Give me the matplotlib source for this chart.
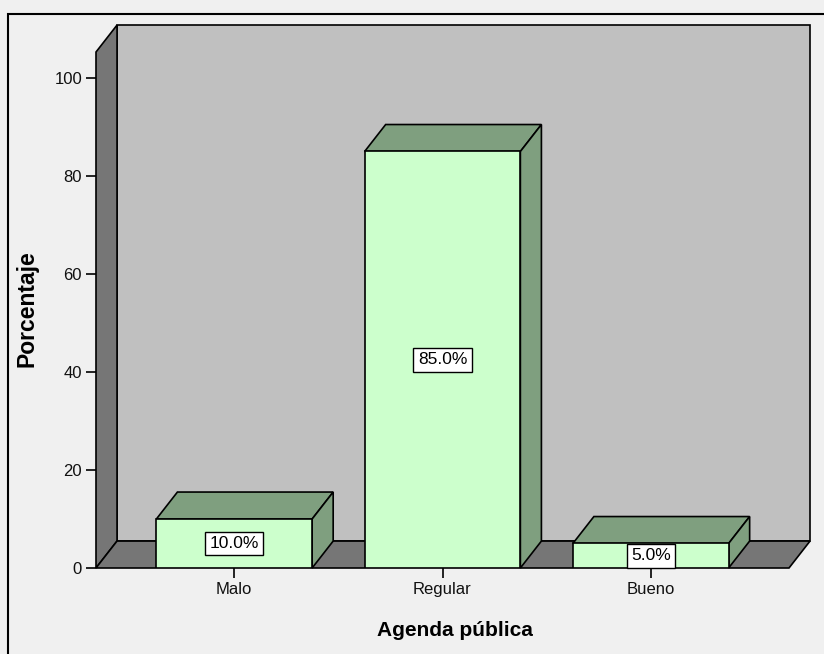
"""SPSS-style 3D bar chart: Agenda pública (percentages)."""

import matplotlib
matplotlib.use("Agg")
import matplotlib.pyplot as plt
from matplotlib.patches import Polygon, Rectangle

categories = ["Malo", "Regular", "Bueno"]
percent = [10.0, 85.0, 5.0]
yticks = [0, 20, 40, 60, 80, 100]

W, H = 824, 654
BG = "#f0f0f0"
WALL = "#c0c0c0"
SIDE = "#767676"
FRONT = "#ccffcc"
TOP = "#7f9f7f"
FONT = "Liberation Sans"

BAR_W = 0.748
XMIN, XMAX = -0.664, 2.664
YTOP = 105.3
DX, DY = 0.101, 5.5  # depth offset, data units


def poly(ax, pts, color, z):
    ax.add_patch(Polygon(pts, closed=True, facecolor=color, edgecolor="black",
                         linewidth=1.2, clip_on=False, zorder=z))


fig = plt.figure(figsize=(W / 100, H / 100), dpi=100, facecolor=BG)
fig.patches.append(Rectangle((8 / W, -0.05), 1.0, 1 - 14 / H + 0.05,
                             transform=fig.transFigure, fill=False,
                             edgecolor="black", linewidth=1.5))

ax = fig.add_axes([96 / W, (H - 568) / H, 693 / W, 516 / H])
ax.set_xlim(XMIN, XMAX)
ax.set_ylim(0, YTOP)
ax.patch.set_visible(False)
for s in ax.spines.values():
    s.set_visible(False)

# back wall, left wall, floor
poly(ax, [(XMIN + DX, DY), (XMAX + DX, DY), (XMAX + DX, YTOP + DY), (XMIN + DX, YTOP + DY)], WALL, 1)
poly(ax, [(XMIN, 0), (XMIN + DX, DY), (XMIN + DX, YTOP + DY), (XMIN, YTOP)], SIDE, 2)
poly(ax, [(XMIN, 0), (XMAX, 0), (XMAX + DX, DY), (XMIN + DX, DY)], SIDE, 2)

xs = list(range(len(categories)))
ax.bar(xs, percent, width=BAR_W, color=FRONT, edgecolor="black", linewidth=1.2, zorder=5)
for x, v in zip(xs, percent):
    l, r = x - BAR_W / 2, x + BAR_W / 2
    poly(ax, [(l, v), (r, v), (r + DX, v + DY), (l + DX, v + DY)], TOP, 4)
    poly(ax, [(r, 0), (r + DX, DY), (r + DX, v + DY), (r, v)], TOP, 4)
    ax.text(x, v / 2, f"{v:.1f}%", ha="center", va="center", fontsize=12.5,
            family=FONT, zorder=6,
            bbox=dict(boxstyle="square,pad=0.25", facecolor="white", edgecolor="black", linewidth=1))

ax.set_yticks(yticks)
ax.set_xticks(xs)
ax.set_xticklabels(categories)
ax.tick_params(axis="both", direction="out", length=7, width=1.2, color="black",
               labelsize=12, labelcolor="#111111", pad=3)
for t in ax.get_xticklabels() + ax.get_yticklabels():
    t.set_family(FONT)

fig.text(455 / W, 1 - 630 / H, "Agenda pública", ha="center", va="center",
         fontsize=15, fontweight="bold", family=FONT)
fig.text(27 / W, 1 - 309 / H, "Porcentaje", ha="center", va="center",
         rotation=90, fontsize=16.5, fontweight="bold", family=FONT)

fig.savefig("out.png", dpi=100, facecolor=BG)
